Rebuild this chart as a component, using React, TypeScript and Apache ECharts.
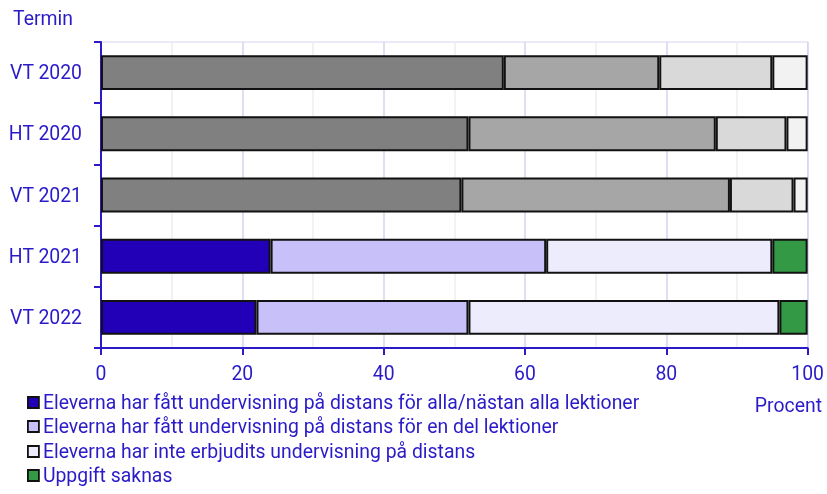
import React, { useEffect, useRef } from "react";
import * as echarts from "echarts";

const categories = ["VT 2020", "HT 2020", "VT 2021", "HT 2021", "VT 2022"];
const seriesNames = [
  "Eleverna har fått undervisning på distans för alla/nästan alla lektioner",
  "Eleverna har fått undervisning på distans för en del lektioner",
  "Eleverna har inte erbjudits undervisning på distans",
  "Uppgift saknas",
];
const allaLektioner = [57, 52, 51, 24, 22];
const delLektioner = [22, 35, 38, 39, 30];
const inteErbjudits = [16, 10, 9, 32, 44];
const uppgiftSaknas = [5, 3, 2, 5, 4];
const xTicks = [0, 20, 40, 60, 80, 100];
const grayRows = 3;

const colors = ["#2200b8", "#c8c0f8", "#ececfc", "#339944"];
const grays = ["#808080", "#a6a6a6", "#d9d9d9", "#f2f2f2"];
const textColor = "#2a1ac8";
const FS = 19.4;

export default function App() {
  const ref = useRef<HTMLDivElement>(null);
  useEffect(() => {
    if (!ref.current) return;
    const chart = echarts.init(ref.current, undefined, { renderer: "svg" });
    const values = [allaLektioner, delLektioner, inteErbjudits, uppgiftSaknas];
    const legendTops = [393, 417, 442, 466];
    chart.setOption({
      animation: false,
      textStyle: { fontFamily: "Roboto" },
      grid: {
        left: 101,
        right: 18,
        top: 42,
        bottom: 146,
        show: true,
        borderColor: "#d4d4f0",
        borderWidth: 1,
      },
      xAxis: {
        type: "value",
        min: xTicks[0],
        max: xTicks[xTicks.length - 1],
        interval: 20,
        axisLine: { show: true, lineStyle: { color: textColor, width: 2 } },
        axisTick: { show: true, length: 7, lineStyle: { color: textColor, width: 2 } },
        axisLabel: { color: textColor, fontSize: FS, margin: 16, fontFamily: "Roboto" },
        splitLine: { show: true, lineStyle: { color: "#d4d4f0", width: 1.5 } },
        minorTick: { show: false, splitNumber: 2 },
        minorSplitLine: { show: true, lineStyle: { color: "#eeeeee", width: 1.5 } },
      },
      yAxis: {
        type: "category",
        data: categories,
        inverse: true,
        axisLine: { show: true, lineStyle: { color: textColor, width: 2 } },
        axisTick: { show: true, length: 7, lineStyle: { color: textColor, width: 2 } },
        axisLabel: { color: textColor, fontSize: FS, margin: 19, fontFamily: "Roboto" },
        splitLine: { show: false },
      },
      legend: seriesNames.map((name, i) => ({
        orient: "vertical",
        left: 27,
        top: legendTops[i],
        padding: 0,
        itemWidth: 11,
        itemHeight: 11,
        icon: "rect",
        itemStyle: { borderColor: "#111111", borderWidth: 1.8 },
        textStyle: { color: textColor, fontSize: FS, fontFamily: "Roboto", padding: [0, 0, 0, -1] },
        data: [name],
      })),
      graphic: [
        {
          type: "text",
          left: 13,
          top: 9,
          style: { text: "Termin", fill: textColor, fontSize: FS, fontFamily: "Roboto" },
        },
        {
          type: "text",
          right: 5,
          top: 396,
          style: { text: "Procent", fill: textColor, fontSize: FS, fontFamily: "Roboto" },
        },
      ],
      series: seriesNames.map((name, si) => ({
        name,
        type: "bar",
        stack: "total",
        barWidth: "57%",
        itemStyle: { color: colors[si], borderColor: "#111111", borderWidth: 2 },
        data: values[si].map((v, ri) =>
          ri < grayRows
            ? { value: v, itemStyle: { color: grays[si], borderColor: "#111111", borderWidth: 2 } }
            : v
        ),
      })),
    });
    return () => chart.dispose();
  }, []);
  return (
    <div
      ref={ref}
      style={{ width: 827, height: 494, position: "fixed", left: 0, top: 0 }}
    />
  );
}
